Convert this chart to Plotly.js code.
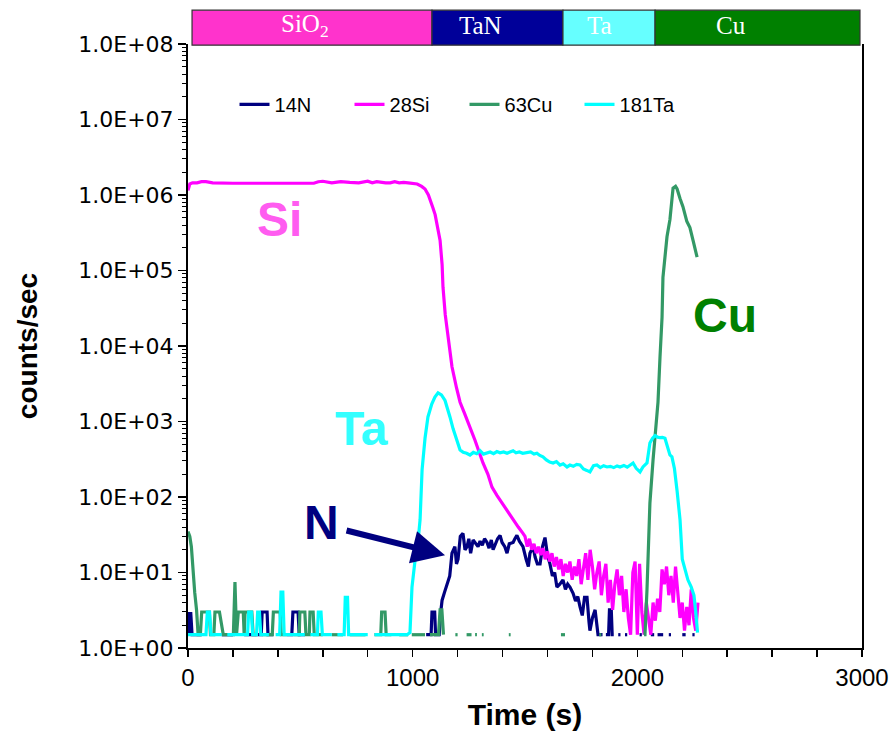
<!DOCTYPE html>
<html>
<head>
<meta charset="utf-8">
<script src="https://cdn.plot.ly/plotly-3.0.1.min.js"></script>
<style>html,body{margin:0;padding:0;background:#fff}#chart{width:890px;height:742px}</style>
</head>
<body>
<div id="chart"></div>
<script>
// ---- data ----
const seriesNames = ["14N", "28Si", "63Cu", "181Ta"];
const seriesColors = ["#000080", "#ff00ff", "#339966", "#00ffff"];

const tN = [0,6,12,18,60,66,150,200,206,250,326,330,352,356,380,386,440,462,467,490,495,520,526,1060,1082,1086,1098,1102,1118,1125,1131,1142,1153,1165,1175,1188,1195,1202,1212,1224,1233,1242,1250,1258,1269,1278,1291,1300,1310,1320,1331,1340,1350,1358,1368,1378,1389,1398,1410,1420,1430,1447,1455,1464,1475,1491,1505,1515,1522,1536,1545,1555,1567,1578,1589,1600,1611,1622,1632,1642,1655,1669,1680,1690,1700,1714,1725,1735,1745,1755,1765,1776,1785,1789,1800,1812,1825,1834,1845,1852,1860,1872,1876,1884,1888,1895,1900,1915,1925,1930,1945,1955,1960,2010,2020,2025,2060,2075,2080,2090,2115,2120,2140,2150,2155,2200,2215,2220,2245,2255];
const vN = [3,1.5,3,1.5,1.5,null,1.5,1.5,null,1.5,1.5,3,3,1.5,1.5,null,1.5,1.5,3,3,1.5,1.5,null,1.5,1.5,3,3,1.5,1.5,3,4.3,5.5,6.8,9,18,22,13,15,30,33,20,22,28,18,27,25,22,26,23,28,25,21,27,20,24,28,31,25,22,18,24,25,28,31,26,22,15,12,18,22,16,13,13,22,29,17,13,9,10,6.4,7,8,6,7,6.4,5.3,4.2,4.8,3.5,2.7,4.7,4.7,2.2,1.7,2.5,3.2,1.5,1.5,1.5,null,1.5,1.5,3.2,3.2,1.5,1.5,null,1.5,1.5,null,1.5,1.5,null,1.5,1.5,null,1.5,1.5,null,1.5,1.5,null,1.5,1.5,null,1.5,1.5,null,1.5,1.5];

const tSi = [0,8,20,40,60,80,110,150,200,260,320,380,440,500,540,560,580,600,640,680,720,760,800,820,840,860,880,900,920,940,960,980,1000,1020,1040,1055,1070,1080,1090,1100,1110,1122,1131,1135,1145,1157,1175,1195,1211,1230,1246,1262,1277,1295,1313,1335,1353,1375,1398,1420,1447,1470,1491,1500,1510,1520,1530,1540,1550,1560,1570,1580,1590,1600,1610,1620,1630,1640,1650,1660,1670,1680,1690,1700,1710,1720,1730,1740,1750,1760,1770,1780,1790,1800,1810,1820,1830,1840,1850,1860,1870,1880,1890,1900,1910,1920,1930,1940,1950,1960,1970,1980,1990,2000,2010,2020,2030,2040,2050,2060,2070,2080,2090,2100,2110,2120,2130,2140,2150,2160,2170,2180,2190,2200,2210,2220,2230,2240,2250,2260,2270];
const vSi = [1.15e6,1.4e6,1.45e6,1.45e6,1.5e6,1.5e6,1.45e6,1.43e6,1.43e6,1.43e6,1.43e6,1.43e6,1.43e6,1.43e6,1.43e6,1.43e6,1.5e6,1.52e6,1.45e6,1.5e6,1.47e6,1.45e6,1.52e6,1.45e6,1.5e6,1.47e6,1.45e6,1.45e6,1.5e6,1.45e6,1.47e6,1.45e6,1.42e6,1.4e6,1.3e6,1.2e6,1.0e6,8.5e5,6.8e5,5.5e5,4.0e5,2.5e5,1.2e5,6e4,2.6e4,1.3e4,5.3e3,2.8e3,1.8e3,1.3e3,1.0e3,750,570,400,282,200,135,105,83,65,50,40,33,30,22,28,20,24,18,22,17,21,15,19,14,18,12,16,11,15,9,13,10,14,8,12,9,15,7,11,18,8,20,12,6,10,14,5,9,13,4,8,3.2,7,11,5,9,3,6,2.5,1.5,10,14,1.5,13,3,1.5,4,2.3,1.5,4,2.3,4.5,3,11,7,12,5,9,4,12,6,2.5,4,1.7,3.5,2,6,2.5,1.7,4];

const tCu = [0,8,15,22,30,38,45,55,61,95,100,115,120,140,157,165,202,209,216,224,246,250,254,284,290,305,310,330,375,380,410,415,440,445,470,495,498,520,525,540,543,557,562,600,606,640,690,696,720,790,796,830,858,862,877,882,905,911,940,980,986,996,1055,1061,1077,1115,1122,1130,1137,1143,1190,1200,1206,1240,1262,1268,1278,1286,1292,1308,1316,1322,1428,1436,1442,1660,1678,1684,1830,1840,1846,2030,2034,2043,2056,2070,2079,2092,2101,2110,2114,2132,2145,2159,2170,2177,2190,2203,2220,2234,2248,2266];
const vCu = [35,30,22,11,5.4,3.2,1.5,1.5,3,3,1.5,1.5,3,3,1.5,1.5,1.5,7.5,1.5,3,3,1.5,3,3,1.5,1.5,null,1.5,1.5,3,3,1.5,1.5,null,1.5,1.5,3,3,1.5,1.5,3,3,1.5,1.5,null,1.5,1.5,null,1.5,1.5,null,1.5,1.5,3,3,1.5,1.5,null,1.5,1.5,null,1.5,1.5,null,1.5,1.5,3.2,3.2,1.5,null,1.5,1.5,null,1.5,1.5,null,1.5,1.5,null,1.5,1.5,null,1.5,1.5,null,1.5,1.5,null,1.5,1.5,null,1.5,1.5,5.9,83,310,700,1800,7200,24000,81000,2.8e5,4.7e5,1.23e6,1.3e6,1.2e6,9e5,7.0e5,4.5e5,3.7e5,2.5e5,1.5e5];

const tTa = [0,80,86,96,102,150,156,175,265,270,282,288,305,310,318,324,360,366,390,408,414,422,428,436,520,526,545,576,580,592,598,640,646,665,695,700,710,715,800,806,830,975,988,997,1010,1019,1033,1042,1055,1068,1085,1099,1113,1128,1144,1155,1166,1180,1197,1211,1225,1240,1255,1270,1285,1300,1315,1331,1345,1360,1375,1389,1405,1420,1435,1447,1460,1475,1490,1509,1525,1540,1553,1566,1580,1595,1610,1625,1640,1656,1670,1687,1700,1715,1730,1745,1760,1775,1789,1805,1820,1835,1850,1865,1880,1895,1910,1923,1940,1955,1970,1981,1995,2012,2025,2043,2056,2068,2079,2090,2101,2112,2123,2135,2145,2154,2165,2177,2190,2200,2212,2225,2240,2252,2260,2268];
const vTa = [1.5,1.5,3,3,1.5,1.5,null,1.5,1.5,3,3,1.5,1.5,3,3,1.5,1.5,null,1.5,1.5,5.5,5.5,1.5,1.5,1.5,null,1.5,1.5,3,3,1.5,1.5,null,1.5,1.5,4.7,4.7,1.5,1.5,null,1.5,1.5,1.6,6.4,14,18,50,230,600,1150,1700,2100,2400,2250,1900,1500,1150,800,570,420,390,380,360,390,375,410,370,385,395,375,400,385,395,380,400,410,385,395,380,390,395,370,380,355,340,310,290,282,295,265,275,250,265,255,270,265,235,225,215,260,265,245,260,250,255,245,258,250,262,248,270,282,240,215,250,282,520,600,650,620,610,615,600,440,360,340,240,120,50,15,11,8,6.4,5,3,1.6];

const layerNames = ["SiO<sub>2</sub>", "TaN", "Ta", "Cu"];
const layerStarts = [18, 1086, 1669, 2079];
const layerEnds = [1086, 1669, 2079, 2991];
const layerLabelX = [521, 1300, 1830, 2415];
const layerColors = ["#ff33cc", "#000099", "#66ffff", "#008000"];

const yTickVals = [1, 10, 100, 1e3, 1e4, 1e5, 1e6, 1e7, 1e8];
const yTickText = ["1.0E+00","1.0E+01","1.0E+02","1.0E+03","1.0E+04","1.0E+05","1.0E+06","1.0E+07","1.0E+08"];
const xTickVals = [0,200,400,600,800,1000,1200,1400,1600,1800,2000,2200,2400,2600,2800,3000];
const xTickText = ["0","","","","","1000","","","","","2000","","","","","3000"];

// ---- build ----
const xs = [tN, tSi, tCu, tTa];
const ys = [vN, vSi, vCu, vTa];
const traces = seriesNames.map((n, i) => ({
  type: "scatter", mode: "lines", name: n,
  x: xs[i], y: ys[i], connectgaps: false,
  line: {color: seriesColors[i], width: 3.2}
}));

const minorVals = [];
for (let d = 0; d < 8; d++) for (let k = 2; k <= 9; k++) minorVals.push(k * Math.pow(10, d));

const shapes = layerNames.map((n, i) => ({
  type: "rect", xref: "x", yref: "paper",
  x0: layerStarts[i], x1: layerEnds[i], y0: 0.998, y1: 1.056,
  fillcolor: layerColors[i], line: {color: "#333333", width: 1.2}, layer: "below"
}));

const annotations = layerNames.map((n, i) => ({
  xref: "x", yref: "paper", x: layerLabelX[i], y: 1.03, yanchor: "middle",
  text: n, showarrow: false,
  font: {family: "Liberation Serif, Times New Roman, serif", size: 25, color: "#ffffff"}
}));

const big = (txt, x, y, col) => ({
  xref: "x", yref: "y", x: x, y: y, text: "<b>" + txt + "</b>", showarrow: false,
  font: {family: "Liberation Sans, Arial, sans-serif", size: 48, color: col}
});
annotations.push(big("Si", 409, 5.67, "#ff5cf0"));
annotations.push(big("Ta", 774, 2.91, "#33ffff"));
annotations.push(big("Cu", 2390, 4.41, "#008000"));
annotations.push(big("N", 596, 1.656, "#000080"));
annotations.push({
  xref: "x", yref: "y", x: 1144, y: 1.23, ax: -100, ay: -25,
  showarrow: true, arrowhead: 2, arrowsize: 1.1, arrowwidth: 6, arrowcolor: "#000080", text: ""
});

const layout = {
  width: 890, height: 742,
  margin: {l: 188, r: 28, t: 44, b: 94},
  paper_bgcolor: "#ffffff", plot_bgcolor: "rgba(0,0,0,0)",
  font: {family: "Liberation Sans, Arial, sans-serif", color: "#000"},
  showlegend: true,
  legend: {orientation: "h", x: 0.069, y: 0.90, xanchor: "left", yanchor: "middle",
           font: {size: 20, color: "#000"}, bgcolor: "rgba(0,0,0,0)",
           entrywidth: 70, entrywidthmode: "pixels", traceorder: "normal"},
  xaxis: {range: [0, 3000], tickmode: "array", tickvals: xTickVals, ticktext: xTickText,
          ticks: "outside", ticklen: 7, tickwidth: 1.5, tickcolor: "#000",
          showline: true, linecolor: "#000", linewidth: 2, showgrid: false, zeroline: false,
          tickfont: {size: 24}, mirror: false,
          title: {text: "<b>Time (s)</b>", font: {size: 30}, standoff: 14}},
  yaxis: {type: "log", range: [0, 8], tickmode: "array", tickvals: yTickVals, ticktext: yTickText,
          ticks: "outside", ticklen: 8, tickwidth: 1.5, tickcolor: "#000",
          minor: {tickmode: "array", tickvals: minorVals, ticks: "outside", ticklen: 4, tickwidth: 1, tickcolor: "#000", showgrid: false},
          showline: true, linecolor: "#000", linewidth: 2, showgrid: false, zeroline: false, mirror: true,
          tickfont: {size: 22, family: "DejaVu Sans, sans-serif"},
          title: {text: "<b>counts/sec</b>", font: {size: 28}, standoff: 32}},
  shapes: shapes,
  annotations: annotations
};

Plotly.newPlot("chart", traces, layout, {displayModeBar: false, staticPlot: true});
</script>
</body>
</html>
